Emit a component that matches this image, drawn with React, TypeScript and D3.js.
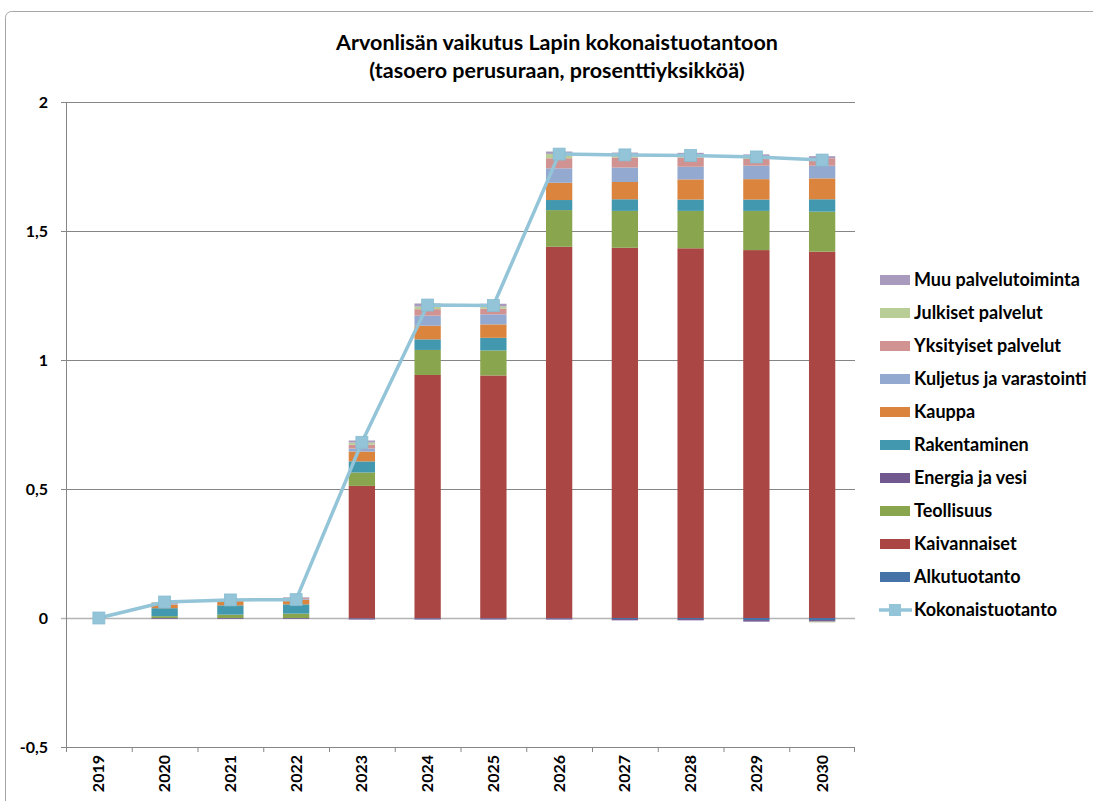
import React from "react";
import * as d3 from "d3";

const years = ["2019", "2020", "2021", "2022", "2023", "2024", "2025", "2026", "2027", "2028", "2029", "2030"];

const alkutuotanto = [0, 0, 0, 0, -0.001, -0.001, -0.001, -0.001, -0.004, -0.004, -0.008, -0.008];
const kaivannaiset = [0, 0, 0, 0, 0.512, 0.942, 0.94, 1.439, 1.435, 1.433, 1.426, 1.42];
const teollisuus = [0, 0.007, 0.013, 0.017, 0.052, 0.097, 0.097, 0.142, 0.143, 0.145, 0.152, 0.155];
const energia = [0, -0.003, -0.003, -0.003, -0.005, -0.005, -0.005, -0.005, -0.005, -0.005, -0.006, -0.006];
const rakentaminen = [0, 0.031, 0.036, 0.036, 0.043, 0.041, 0.049, 0.039, 0.045, 0.044, 0.044, 0.048];
const kauppa = [0, 0.014, 0.017, 0.018, 0.038, 0.053, 0.052, 0.067, 0.067, 0.078, 0.079, 0.081];
const kuljetus = [0, 0.003, 0.002, 0.003, 0.012, 0.039, 0.039, 0.056, 0.056, 0.049, 0.052, 0.049];
const yksityiset = [0, 0.004, 0.004, 0.004, 0.015, 0.025, 0.022, 0.039, 0.039, 0.036, 0.026, 0.029];
const julkiset = [0, 0.002, 0.001, 0.001, 0.008, 0.01, 0.009, 0.017, 0.009, 0.009, 0.008, -0.003];
const muu = [0, 0.001, 0.001, 0.002, 0.008, 0.012, 0.01, 0.009, 0.01, 0.009, 0.01, 0.008];
const kokonaistuotanto = [0, 0.062, 0.07, 0.071, 0.681, 1.213, 1.211, 1.798, 1.795, 1.793, 1.787, 1.775];

const yTicks = [-0.5, 0, 0.5, 1, 1.5, 2];

const series = [
  { name: "Alkutuotanto", values: alkutuotanto, color: "#4572A7" },
  { name: "Kaivannaiset", values: kaivannaiset, color: "#AA4643" },
  { name: "Teollisuus", values: teollisuus, color: "#89A54E" },
  { name: "Energia ja vesi", values: energia, color: "#71588F" },
  { name: "Rakentaminen", values: rakentaminen, color: "#4198AF" },
  { name: "Kauppa", values: kauppa, color: "#DB843D" },
  { name: "Kuljetus ja varastointi", values: kuljetus, color: "#93A9CF" },
  { name: "Yksityiset palvelut", values: yksityiset, color: "#D19392" },
  { name: "Julkiset palvelut", values: julkiset, color: "#B9CD96" },
  { name: "Muu palvelutoiminta", values: muu, color: "#A99BBD" },
];

const lineColor = "#93C4D8";
const font = "Lato, 'Open Sans', sans-serif";

export default function App() {
  const W = 1093;
  const H = 801;
  const left = 66, right = 855, top = 102, bottom = 747;

  const x = d3.scaleBand<string>().domain(years).range([left, right]).paddingInner(0).paddingOuter(0);
  const step = x.step();
  const bw = step * 0.4;
  const cx = (yr: string) => (x(yr) as number) + step / 2;
  const y = d3.scaleLinear().domain([-0.5, 2]).range([bottom, top]);

  const rects: React.ReactNode[] = [];
  years.forEach((yr, i) => {
    let pos = 0;
    let neg = 0;
    series.forEach((s, si) => {
      const v = s.values[i];
      if (v === 0) return;
      let y0, y1;
      if (v > 0) {
        y0 = pos;
        y1 = pos + v;
        pos = y1;
      } else {
        y0 = neg + v;
        y1 = neg;
        neg = y0;
      }
      rects.push(
        <rect
          key={`${yr}-${si}`}
          x={cx(yr) - bw / 2}
          y={y(y1)}
          width={bw}
          height={Math.max(0, y(y0) - y(y1))}
          fill={s.color}
        />
      );
    });
  });

  const line = d3
    .line<number>()
    .x((_, i) => cx(years[i]))
    .y((d) => y(d));

  const legendItems = [...series].reverse();
  const legendX = 880;
  const legendY0 = 280;
  const legendStep = 33;

  return (
    <svg
      width={W}
      height={H}
      style={{ position: "absolute", left: 0, top: 0, background: "#fff" }}
      fontFamily={font}
    >
      <rect x={5.5} y={11.5} width={W + 20} height={H + 20} rx={6} fill="#fff" stroke="#a6a6a6" strokeWidth={1} />
      <text x={557} y={50} textAnchor="middle" fontSize={21.5} fontWeight="bold" fill="#000">
        Arvonlisän vaikutus Lapin kokonaistuotantoon
      </text>
      <text x={557} y={78} textAnchor="middle" fontSize={21.5} fontWeight="bold" fill="#000">
        (tasoero perusuraan, prosenttiyksikköä)
      </text>

      {yTicks.map((t) => (
        <g key={t}>
          <line x1={left - 5} x2={right} y1={Math.round(y(t)) + 0.5} y2={Math.round(y(t)) + 0.5} stroke={t === 0 ? "#b4b4b4" : "#868686"} strokeWidth={t === 0 ? 1.5 : 1} />
          <text x={48} y={y(t) + 5.5} textAnchor="end" fontSize={16} fontWeight="bold" fill="#000">
            {String(t).replace(".", ",")}
          </text>
        </g>
      ))}
      <line x1={left + 0.5} x2={left + 0.5} y1={top} y2={bottom} stroke="#868686" />
      {years.map((yr) => (
        <line key={yr} x1={(x(yr) as number) + 0.5} x2={(x(yr) as number) + 0.5} y1={bottom} y2={bottom + 5} stroke="#868686" />
      ))}
      <line x1={right - 0.5} x2={right - 0.5} y1={bottom} y2={bottom + 5} stroke="#868686" />

      {rects}

      <path d={line(kokonaistuotanto) || ""} fill="none" stroke={lineColor} strokeWidth={3.5} strokeLinejoin="round" />
      {kokonaistuotanto.map((v, i) => (
        <rect key={i} x={cx(years[i]) - 6} y={y(v) - 6} width={12} height={12} fill={lineColor} stroke="#86bcd2" strokeWidth={0.75} />
      ))}

      {years.map((yr) => (
        <text
          key={yr}
          transform={`translate(${cx(yr) + 5.5},${755}) rotate(-90)`}
          textAnchor="end"
          fontSize={16}
          fontWeight="bold"
          fill="#000"
        >
          {yr}
        </text>
      ))}

      {legendItems.map((s, i) => {
        const ly = legendY0 + i * legendStep;
        return (
          <g key={s.name}>
            <rect x={legendX} y={ly - 5} width={30} height={10} fill={s.color} />
            <text x={legendX + 34} y={ly + 6} fontSize={18} fontWeight="bold" fill="#000">
              {s.name}
            </text>
          </g>
        );
      })}
      {(() => {
        const ly = legendY0 + legendItems.length * legendStep;
        return (
          <g>
            <line x1={legendX - 1} x2={legendX + 32} y1={ly} y2={ly} stroke={lineColor} strokeWidth={3.5} />
            <rect x={legendX + 9} y={ly - 6} width={12} height={12} fill={lineColor} />
            <text x={legendX + 34} y={ly + 6} fontSize={18} fontWeight="bold" fill="#000">
              Kokonaistuotanto
            </text>
          </g>
        );
      })()}
    </svg>
  );
}
